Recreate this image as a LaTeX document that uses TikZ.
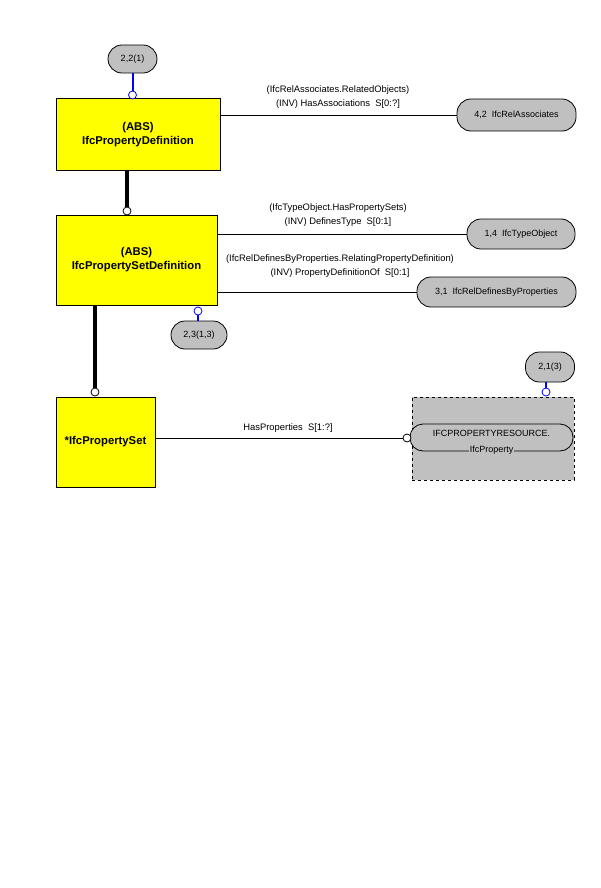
\documentclass[tikz,border=0pt]{standalone}
\usepackage{fontspec}
\setmainfont{Liberation Sans}
\definecolor{entyel}{RGB}{255,255,0}
\definecolor{ovgray}{RGB}{192,192,192}
\definecolor{refblue}{RGB}{0,0,255}
\begin{document}
\begin{tikzpicture}[x=1pt,y=-1pt,
  ent/.style={draw=black, line width=1pt, fill=entyel, align=center, font=\fontsize{11.3}{14}\selectfont\bfseries, inner sep=0pt},
  oval/.style={draw=black, line width=0.8pt, fill=ovgray, rounded corners=14pt, minimum height=30pt, inner sep=2pt, font=\fontsize{9}{10}\selectfont},
  lbl/.style={align=center, font=\fontsize{9.4}{14}\selectfont, inner sep=0pt},
  ring/.style={circle, draw=black, fill=white, line width=0.8pt, minimum size=8pt, inner sep=0pt},
  bring/.style={circle, draw=refblue, fill=white, line width=0.8pt, minimum size=8pt, inner sep=0pt},
  rel/.style={draw=black, line width=0.8pt},
  inh/.style={draw=black, line width=3.5pt},
  bl/.style={draw=refblue, line width=2pt}
]
\useasboundingbox[fill=white] (0,0) rectangle (600,888);

% entities
\node[ent, minimum width=164pt, minimum height=71pt] (pd) at (138,134.5) {(ABS)\\IfcPropertyDefinition};
\node[ent, minimum width=161pt, minimum height=90pt] (psd) at (136.5,260) {(ABS)\\IfcPropertySetDefinition};
\node[ent, minimum width=99pt, minimum height=90pt] (ps) at (105.5,442) {*IfcPropertySet};

% ovals
\node[oval, minimum width=49pt, minimum height=28pt] (o22) at (132.5,59) {2,2(1)};
\node[oval, minimum width=119pt, minimum height=32pt] (r42) at (516.5,115) {4,2\ \ IfcRelAssociates};
\node[oval, minimum width=108pt, minimum height=30pt] (to) at (521,234) {1,4\ \ IfcTypeObject};
\node[oval, minimum width=159pt, minimum height=30pt] (rdp) at (496.5,292) {3,1\ \ IfcRelDefinesByProperties};
\node[oval, minimum width=56pt, minimum height=28pt] (o23) at (199,335) {2,3(1,3)};
\node[oval, minimum width=49pt, minimum height=30pt] (o21) at (550,367) {2,1(3)};

% external gray box
\node[draw=black, dashed, line width=0.8pt, fill=ovgray, minimum width=162pt, minimum height=83pt, inner sep=0pt] (ext) at (493,438.5) {};
\node[draw=black, line width=0.8pt, fill=ovgray, rounded corners=13pt, minimum width=163pt, minimum height=27pt, inner sep=0pt] (iov) at (491.5,437.5) {};
\node[font=\fontsize{9}{10}\selectfont, inner sep=0pt] (iovt1) at (491.5,433) {IFCPROPERTYRESOURCE.};
\node[font=\fontsize{9}{10}\selectfont, fill=ovgray, inner sep=1pt] (iovt2) at (491.5,450) {IfcProperty};

% rings
\node[bring] (bc1) at (132.5,95) {};
\node[ring] (c1) at (127,211) {};
\node[bring] (bc2) at (198,311) {};
\node[ring] (c2) at (95,392) {};
\node[ring] (c3) at (407,438) {};
\node[bring] (bc3) at (546,392) {};

% connectors
\draw[bl] (o22.south) -- (bc1.north);
\draw[bl] (bc2.south) -- (bc2 |- o23.north);
\draw[bl] (bc3 |- o21.south) -- (bc3.north);
\draw[inh] (pd.south -| c1) -- (c1.north);
\draw[inh] (psd.south -| c2) -- (c2.north);
\draw[rel] (pd.east |- r42.west) -- (r42.west);
\draw[rel] (psd.east |- to.west) -- (to.west);
\draw[rel] (psd.east |- rdp.west) -- (rdp.west);
\draw[rel] (ps.east |- c3.west) -- (c3.west);

% labels
\node[lbl] (l1) at (338,97) {(IfcRelAssociates.RelatedObjects)\\(INV) HasAssociations\ \ S[0:?]};
\node[lbl] (l2) at (338,215) {(IfcTypeObject.HasPropertySets)\\(INV) DefinesType\ \ S[0:1]};
\node[lbl] (l3) at (340,266) {(IfcRelDefinesByProperties.RelatingPropertyDefinition)\\(INV) PropertyDefinitionOf\ \ S[0:1]};
\node[lbl] (l4) at (288,428) {HasProperties\ \ S[1:?]};
\end{tikzpicture}
\end{document}
